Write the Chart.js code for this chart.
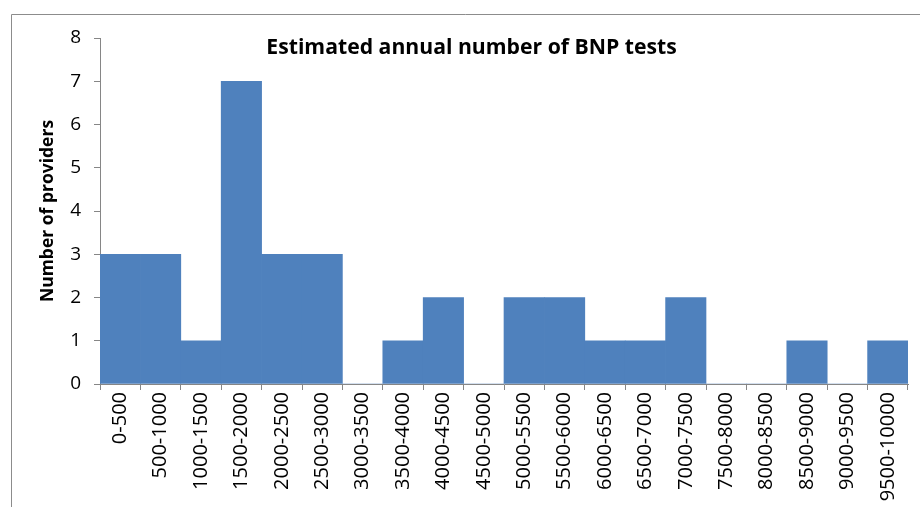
<!DOCTYPE html>
<html>
<head>
<meta charset="utf-8">
<script src="https://cdn.jsdelivr.net/npm/chart.js@4"></script>
<style>
  html, body { margin: 0; padding: 0; background: #fff; }
  #wrap { width: 920px; height: 507px; }
</style>
</head>
<body>
<div id="wrap"><canvas id="myChart" width="920" height="507"></canvas></div>
<script>
// bins of the estimated annual number of tests
const bins = ['0-500', '500-1000', '1000-1500', '1500-2000', '2000-2500', '2500-3000',
    '3000-3500', '3500-4000', '4000-4500', '4500-5000', '5000-5500', '5500-6000',
    '6000-6500', '6500-7000', '7000-7500', '7500-8000', '8000-8500', '8500-9000',
    '9000-9500', '9500-10000'];
const providers = [3, 3, 1, 7, 3, 3, 0, 1, 2, 0, 2, 2, 1, 1, 2, 0, 0, 1, 0, 1];
const yTicks = [0, 1, 2, 3, 4, 5, 6, 7, 8];

const font = "'Open Sans', sans-serif";
const axisGray = '#868686';

// frame round the chart + title drawn inside the plot area
const framePlugin = {
    id: 'frame',
    afterDraw(chart) {
        const c = chart.ctx;
        c.save();
        c.strokeStyle = '#8c8c8c';
        c.lineWidth = 1;
        c.beginPath();
        c.moveTo(11.5, 507);
        c.lineTo(11.5, 14.5);
        c.lineTo(920, 14.5);
        c.stroke();

        c.fillStyle = '#000';
        c.font = "bold 21.2px " + font;
        c.textAlign = 'center';
        c.textBaseline = 'alphabetic';
        c.fillText('Estimated annual number of BNP tests', 471.5, 54);
        c.restore();
    }
};

const ctx = document.getElementById('myChart').getContext('2d');

const myChart = new Chart(ctx, {
    type: 'bar',
    data: {
        labels: bins,
        datasets: [{
            label: 'Number of providers',
            data: providers,
            backgroundColor: '#4F81BD',
            borderWidth: 0,
            categoryPercentage: 1.0,
            barPercentage: 1.0
        }]
    },
    options: {
        responsive: false,
        animation: false,
        layout: { padding: { top: 38, right: 12, left: 0, bottom: 0 } },
        plugins: {
            legend: { display: false },
            tooltip: { enabled: false }
        },
        scales: {
            x: {
                grid: { drawOnChartArea: false, color: axisGray, tickLength: 6, offset: true },
                border: { color: axisGray },
                ticks: {
                    color: '#000',
                    font: { family: font, size: 20 },
                    minRotation: 90,
                    maxRotation: 90,
                    autoSkip: false,
                    padding: 2
                },
                afterFit: s => { s.height = 123; }
            },
            y: {
                min: 0,
                max: 8,
                afterBuildTicks: s => { s.ticks = yTicks.map(v => ({ value: v })); },
                grid: { drawOnChartArea: false, color: axisGray, tickLength: 6 },
                border: { color: axisGray },
                ticks: {
                    color: '#000',
                    font: { family: font, size: 19 },
                    padding: 13
                },
                title: {
                    display: true,
                    text: 'Number of providers',
                    color: '#000',
                    font: { family: font, size: 17.5, weight: 'bold' },
                    padding: { top: 38, bottom: 0 }
                },
                afterFit: s => { s.width = 100; }
            }
        }
    },
    plugins: [framePlugin]
});
</script>
</body>
</html>
